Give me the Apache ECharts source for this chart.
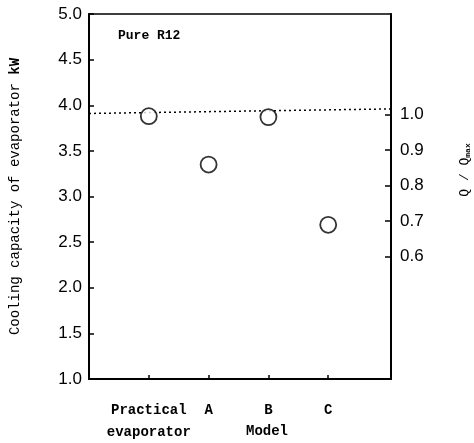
<!DOCTYPE html>
<html>
<head>
<meta charset="utf-8">
<script src="https://cdn.jsdelivr.net/npm/echarts@6/dist/echarts.min.js"></script>
<style>
  html, body { margin: 0; padding: 0; background: #fff; }
  #chart { width: 474px; height: 443px; }
</style>
</head>
<body>
<div id="chart"></div>
<script>
  // data
  const categories = ['Practical\nevaporator', 'A', 'B', 'C'];
  const capacity = [3.88, 3.35, 3.87, 2.69];
  const qmax = 3.9;
  const ratioTicks = [0.6, 0.7, 0.8, 0.9, 1.0];
  // dotted Q/Qmax = 1 reference, slightly tilted as in the scan
  const refLine = [[0, 3.91], [5.05, 3.96]];

  const mono = '"Liberation Mono", "DejaVu Sans Mono", monospace';
  const sans = '"Liberation Sans", Arial, sans-serif';

  const points = capacity.map((v, i) => [i + 1, v]);
  const catTicks = categories.map((c, i) => i + 1);

  const myChart = echarts.init(document.getElementById('chart'));
  myChart.setOption({
    animation: false,
    backgroundColor: '#fff',
    title: {
      text: 'Pure R12',
      left: 113,
      top: 24,
      textStyle: { fontFamily: mono, fontSize: 13, fontWeight: 'bold', color: '#000' },
    },
    grid: {
      left: 89, right: 83, top: 14, bottom: 61,
      show: true, borderColor: '#000', borderWidth: 1.5,
    },
    xAxis: {
      type: 'value',
      min: 0,
      max: 5.05,
      splitLine: { show: false },
      axisLine: { lineStyle: { color: '#000', width: 2 } },
      axisTick: { inside: true, length: 4, customValues: catTicks, lineStyle: { color: '#000', width: 1.5 } },
      axisLabel: {
        customValues: catTicks,
        margin: 20,
        lineHeight: 22,
        fontFamily: mono,
        fontSize: 14,
        fontWeight: 'bold',
        color: '#000',
        formatter: (v) => categories[Math.round(v) - 1] || '',
      },
    },
    yAxis: [
      {
        type: 'value',
        min: 1,
        max: 5,
        interval: 0.5,
        splitLine: { show: false },
        axisLine: { lineStyle: { color: '#000', width: 2 } },
        axisTick: { inside: true, length: 5, lineStyle: { color: '#000', width: 1.5 } },
        axisLabel: {
          margin: 7,
          fontFamily: sans,
          fontSize: 17,
          color: '#000',
          formatter: (v) => v.toFixed(1),
        },
        name: 'Cooling capacity of evaporator {b|kW}',
        nameLocation: 'middle',
        nameGap: 67,
        nameTextStyle: {
          fontFamily: mono, fontSize: 14, color: '#000',
          rich: { b: { fontFamily: mono, fontSize: 14, fontWeight: 'bold', color: '#000' } },
        },
      },
      {
        type: 'value',
        position: 'right',
        min: 1 / qmax,
        max: 5 / qmax,
        splitLine: { show: false },
        axisLine: { lineStyle: { color: '#000', width: 2 } },
        axisTick: { inside: true, length: 6, customValues: ratioTicks, lineStyle: { color: '#000', width: 1.5 } },
        axisLabel: {
          customValues: ratioTicks,
          margin: 9,
          fontFamily: sans,
          fontSize: 17,
          color: '#000',
          formatter: (v) => v.toFixed(1),
        },
      },
    ],
    graphic: [
      {
        type: 'text',
        x: 267,
        y: 431,
        style: {
          text: 'Model', font: 'bold 14px ' + mono, fill: '#000',
          align: 'center', verticalAlign: 'middle',
        },
      },
      {
        type: 'text',
        x: 465,
        y: 170,
        rotation: Math.PI / 2,
        style: {
          text: 'Q / Q{s|max}',
          font: '13px ' + mono,
          fill: '#000',
          align: 'center',
          verticalAlign: 'middle',
          rich: { s: { fontFamily: mono, fontSize: 8, fontWeight: 'bold', fill: '#000', padding: [6, 0, 0, 0] } },
        },
      },
    ],
    series: [
      {
        type: 'line',
        data: refLine,
        symbol: 'none',
        silent: true,
        lineStyle: { color: '#000', width: 1.5, type: [2, 3] },
      },
      {
        type: 'scatter',
        data: points,
        symbol: 'circle',
        symbolSize: 16,
        itemStyle: { color: '#fff', borderColor: '#000', borderWidth: 1.8 },
        z: 3,
      },
    ],
  });
</script>
</body>
</html>
